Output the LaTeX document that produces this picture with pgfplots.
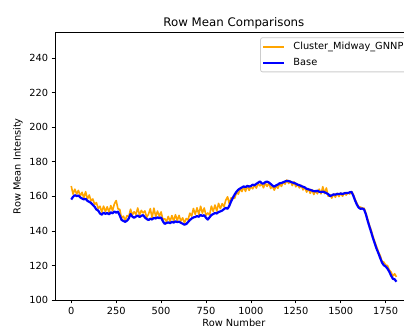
\documentclass[border=0pt]{standalone}
\usepackage{fontspec}
\setmainfont{DejaVu Sans}
\usepackage{pgfplots}
\usepackage{pgfplotstable}
\pgfplotsset{compat=1.18}

\definecolor{mplorange}{HTML}{FFA500}
\definecolor{mplblue}{HTML}{0000FF}

% row mean of the base image, every 10th row
\pgfplotstableread{
row val
0 158.2
10 159.8
20 160.7
30 160.2
40 160.5
50 159.4
60 158.8
70 158.3
80 158.6
90 157.4
100 156.9
110 156.2
120 155.1
130 154.0
140 152.4
150 151.8
160 150.1
170 149.4
180 150.6
190 149.9
200 150.4
210 149.6
220 150.8
230 150.2
240 151.3
250 150.6
260 151.2
270 148.9
280 146.4
290 145.8
300 145.3
310 145.9
320 147.2
330 149.8
340 148.3
350 147.6
360 148.4
370 148.9
380 148.1
390 148.7
400 149.2
410 147.8
420 146.9
430 146.3
440 147.1
450 146.6
460 147.6
470 147.2
480 147.9
490 147.4
500 147.8
510 145.6
520 144.1
530 144.6
540 145.0
550 144.5
560 145.3
570 144.8
580 145.6
590 145.1
600 145.4
610 144.7
620 144.2
630 143.6
640 144.0
650 145.1
660 146.3
670 147.2
680 147.8
690 148.1
700 148.6
710 148.2
720 149.3
730 148.7
740 149.1
750 147.6
760 146.6
770 147.9
780 149.2
790 149.8
800 150.4
810 150.1
820 151.0
830 151.3
840 151.8
850 152.6
860 153.4
870 152.8
880 154.6
890 157.2
900 159.3
910 161.2
920 162.8
930 163.9
940 164.6
950 165.2
960 165.8
970 165.4
980 166.1
990 165.7
1000 166.0
1010 166.8
1020 166.4
1030 167.3
1040 167.9
1050 168.7
1060 167.6
1070 167.4
1080 168.3
1090 168.6
1100 168.1
1110 167.2
1120 166.3
1130 165.6
1140 166.4
1150 166.9
1160 167.6
1170 167.8
1180 168.2
1190 168.7
1200 169.0
1210 168.9
1220 168.5
1230 168.1
1240 167.8
1250 167.4
1260 166.8
1270 166.5
1280 166.0
1290 165.6
1300 165.2
1310 164.4
1320 164.1
1330 163.8
1340 163.4
1350 163.1
1360 162.9
1370 163.3
1380 162.7
1390 162.5
1400 162.8
1410 162.4
1420 161.9
1430 161.3
1440 160.2
1450 160.6
1460 161.2
1470 161.0
1480 161.5
1490 161.3
1500 161.7
1510 161.4
1520 161.8
1530 162.0
1540 161.9
1550 162.4
1560 162.6
1570 160.4
1580 157.6
1590 155.2
1600 153.5
1610 152.8
1620 153.0
1630 152.4
1640 149.6
1650 145.8
1660 142.4
1670 139.1
1680 135.6
1690 132.6
1700 129.5
1710 127.0
1720 124.2
1730 121.6
1740 120.1
1750 119.4
1760 118.2
1770 116.4
1780 114.2
1790 112.3
1800 112.0
1810 110.6
}\basetable

% row mean of the Cluster_Midway_GNNP image, every 10th row
\pgfplotstableread{
row val
0 166.0
10 161.3
20 164.2
30 161.4
40 163.5
50 160.2
60 162.4
70 159.2
80 162.8
90 158.4
100 160.8
110 157.4
120 158.5
130 155.4
140 156.4
150 153.0
160 154.3
170 150.9
180 154.4
190 151.2
200 154.0
210 150.8
220 154.7
230 151.7
240 155.7
250 157.6
260 152.8
270 152.5
280 147.4
290 148.6
300 146.1
310 148.9
320 148.2
330 152.6
340 149.2
350 151.1
360 149.6
370 153.3
380 149.1
390 151.9
400 150.4
410 151.6
420 147.9
430 149.7
440 152.9
450 147.6
460 153.2
470 148.4
480 151.5
490 148.5
500 151.0
510 146.6
520 147.1
530 145.4
540 148.4
550 145.5
560 148.9
570 145.8
580 149.4
590 146.1
600 149.0
610 145.7
620 147.6
630 144.6
640 147.2
650 146.3
660 150.3
670 148.6
680 153.0
690 149.6
700 153.4
710 149.5
720 154.3
730 150.3
740 153.3
750 149.0
760 150.4
770 149.2
780 154.4
790 151.3
800 155.0
810 151.5
820 156.0
830 152.9
840 155.8
850 154.0
860 157.8
870 159.8
880 155.6
890 159.2
900 158.8
910 159.0
920 162.4
930 161.3
940 164.4
950 162.8
960 165.5
970 162.9
980 166.3
990 163.5
1000 165.6
1010 164.4
1020 166.7
1030 164.8
1040 167.4
1050 166.1
1060 167.3
1070 165.0
1080 167.8
1090 165.8
1100 167.9
1110 164.6
1120 165.8
1130 163.6
1140 166.0
1150 164.7
1160 167.3
1170 165.8
1180 168.4
1190 167.1
1200 169.5
1210 167.5
1220 168.9
1230 166.3
1240 168.4
1250 165.6
1260 167.1
1270 164.9
1280 166.4
1290 163.8
1300 165.4
1310 162.5
1320 164.5
1330 161.8
1340 163.9
1350 161.1
1360 163.4
1370 161.5
1380 164.2
1390 161.5
1400 165.6
1410 161.6
1420 164.9
1430 160.1
1440 161.0
1450 159.0
1460 161.4
1470 159.5
1480 161.8
1490 159.9
1500 161.9
1510 160.1
1520 162.2
1530 160.8
1540 162.2
1550 161.4
1560 162.8
1570 161.2
1580 158.2
1590 156.1
1600 154.0
1610 153.8
1620 153.2
1630 153.2
1640 150.2
1650 146.8
1660 143.2
1670 140.3
1680 136.6
1690 133.6
1700 130.7
1710 127.8
1720 125.6
1730 122.4
1740 121.9
1750 120.2
1760 120.0
1770 117.4
1780 116.2
1790 113.9
1800 115.2
1810 113.4
}\gnnptable

\begin{document}
\begin{tikzpicture}
\begin{axis}[
  at={(55pt,26pt)}, anchor=south west,
  scale only axis,
  width=357.7pt, height=267.6pt,
  xmin=-90.5, xmax=1900.5,
  ymin=100, ymax=255,
  xtick={0,250,...,1750},
  ytick={100,120,...,240},
  tick pos=left,
  tick align=outside,
  major tick length=3.4pt,
  every tick/.style={black, line width=0.8pt},
  axis line style={line width=0.8pt},
  /pgf/number format/assume math mode=true,
  /pgf/number format/1000 sep={},
  tick label style={font=\fontsize{9.8}{11}\selectfont},
  xticklabel style={yshift=-0.4pt},
  title={Row Mean Comparisons},
  every axis title/.style={at={(axis description cs:0.5,1)}, anchor=base,
    yshift=6.2pt, font=\fontsize{11.8}{14}\selectfont, inner sep=0pt},
  xlabel={Row Number},
  every axis x label/.style={at={(axis description cs:0.5,0)}, anchor=north,
    yshift=-19pt, font=\fontsize{9.8}{11}\selectfont, inner sep=0pt},
  ylabel={Row Mean Intensity},
  every axis y label/.style={at={(axis description cs:0,0.5)}, anchor=center,
    xshift=-37pt, rotate=90, font=\fontsize{9.8}{11}\selectfont, inner sep=0pt},
  legend cell align=left,
  legend image code/.code={%
    \draw[#1, line width=1.5pt] (0pt,0pt) -- (21pt,0pt);
    \path (27pt,0pt);},
  legend style={
    at={(axis description cs:1,1)}, anchor=north east,
    xshift=-4.9pt, yshift=-4.9pt,
    draw=white!80!black, line width=0.8pt, rounded corners=2pt,
    fill=white, fill opacity=0.8, text opacity=1,
    font=\fontsize{9.8}{11}\selectfont,
    inner xsep=2pt, inner ysep=2.8pt,
    row sep=3pt,
  },
]
\addplot[mplorange, line width=1.6pt, line join=round] table[x=row, y=val] {\gnnptable};
\addlegendentry{Cluster\_Midway\_GNNP}
\addplot[mplblue, line width=2.2pt, line join=round] table[x=row, y=val] {\basetable};
\addlegendentry{Base}
\end{axis}
\pgfresetboundingbox
\path (0pt,0pt) rectangle (404pt,326pt);
\end{tikzpicture}
\end{document}
